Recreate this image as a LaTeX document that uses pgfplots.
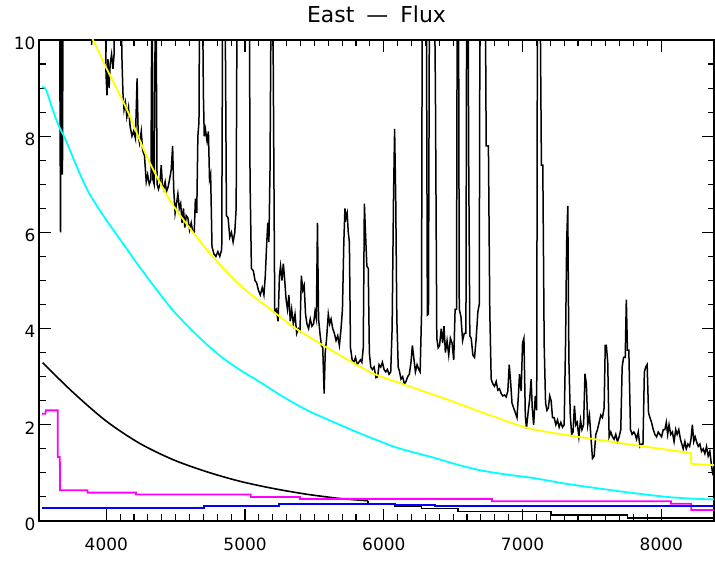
\documentclass[border=0pt]{standalone}
\usepackage{fontspec}
\setmainfont{DejaVu Sans}
\usepackage{pgfplots}
\pgfplotsset{compat=1.18}
\definecolor{idlyellow}{RGB}{255,255,0}
\definecolor{idlcyan}{RGB}{0,255,255}
\definecolor{idlmagenta}{RGB}{255,0,255}
\definecolor{idlblue}{RGB}{0,0,255}

% observed spectrum (values above 10 run off the top)
\pgfplotstableread{
w v
3662 12
3670 6.0
3676 12
3684 7.2
3690 12
3890 12
3895 9.9
3902 12
3990 12
3998 9.3
4005 8.85
4012 9.6
4020 9.0
4028 9.5
4038 9.7
4048 9.4
4056 9.7
4062 12
4105 12
4112 9.7
4120 8.9
4128 8.55
4138 8.7
4148 8.4
4160 8.6
4172 8.2
4185 8.0
4197 8.1
4210 7.95
4222 9.2
4230 8.0
4240 7.85
4252 8.1
4262 7.7
4275 7.6
4288 7.05
4298 7.2
4310 7.0
4322 7.1
4330 12
4336 7.1
4345 7.0
4356 12
4366 7.0
4376 6.9
4386 7.0
4396 7.4
4404 7.0
4414 6.9
4424 7.05
4434 6.85
4446 6.95
4456 7.1
4468 7.3
4478 7.8
4486 6.9
4496 6.4
4506 6.6
4516 6.8
4526 6.5
4536 6.6
4546 6.2
4556 6.5
4566 6.1
4576 6.35
4588 6.3
4600 6.05
4612 6.2
4624 6.0
4634 6.0
4642 6.7
4652 6.4
4660 8.0
4668 8.3
4674 12
4690 12
4700 8.85
4706 8.0
4714 8.15
4726 7.9
4736 8.1
4744 7.1
4752 7.2
4762 5.7
4776 5.55
4790 5.5
4804 5.6
4818 5.5
4832 5.65
4840 12
4854 12
4866 6.35
4878 6.3
4890 5.9
4902 6.0
4914 5.8
4926 6.0
4936 6.5
4944 12
5030 12
5036 7.1
5046 5.25
5060 5.2
5072 5.0
5084 4.95
5096 4.8
5110 4.7
5124 4.85
5136 4.7
5146 5.1
5155 5.7
5164 6.2
5172 5.8
5180 7.3
5190 12
5198 12
5204 9.15
5214 4.35
5226 4.4
5238 4.15
5248 5.1
5256 5.3
5266 5.0
5276 5.35
5286 5.0
5296 4.6
5306 4.4
5316 4.7
5326 4.15
5336 4.4
5348 4.1
5360 4.3
5372 3.9
5384 4.0
5396 3.95
5406 5.1
5416 4.8
5426 4.9
5436 4.3
5446 4.1
5458 4.0
5470 4.2
5482 4.05
5494 4.1
5504 4.35
5514 4.2
5522 6.2
5530 4.2
5540 3.9
5550 3.65
5560 3.6
5570 2.65
5578 3.5
5588 3.8
5600 4.3
5610 4.1
5620 4.2
5632 4.0
5644 3.9
5656 3.75
5668 3.85
5680 3.65
5692 4.0
5702 4.4
5712 5.8
5720 6.5
5728 6.3
5736 6.4
5744 6.0
5752 5.8
5760 3.6
5772 3.35
5784 3.3
5796 3.4
5808 3.25
5820 3.3
5832 3.35
5842 3.3
5852 3.6
5860 6.6
5868 6.0
5878 5.3
5888 5.25
5896 3.5
5906 3.2
5918 3.15
5930 3.2
5944 2.98
5956 3.0
5966 3.25
5978 3.2
5990 3.3
6002 3.15
6014 3.1
6026 3.15
6038 3.05
6050 3.1
6060 4.0
6070 6.7
6078 8.15
6086 6.7
6094 4.2
6104 3.2
6114 3.1
6124 2.95
6136 3.0
6148 2.85
6160 2.9
6172 3.0
6184 3.05
6196 3.3
6206 3.65
6216 3.4
6228 3.1
6240 3.25
6252 3.15
6262 3.1
6272 4.3
6278 12
6306 12
6314 4.28
6322 4.3
6330 12
6362 12
6372 9.0
6382 3.8
6392 3.6
6402 3.65
6414 4.0
6424 3.7
6434 4.05
6444 3.5
6456 3.75
6468 3.45
6480 3.8
6492 3.7
6504 3.35
6514 4.4
6524 4.4
6530 12
6538 12
6544 4.4
6556 4.25
6568 3.75
6580 3.9
6592 3.9
6598 12
6606 12
6612 7.5
6620 3.85
6630 3.8
6642 3.45
6654 3.4
6666 3.8
6678 4.35
6688 4.5
6694 12
6730 12
6738 7.8
6754 7.8
6764 4.35
6774 2.95
6786 2.85
6798 2.8
6810 2.9
6822 2.72
6834 2.75
6846 2.65
6858 2.6
6870 2.62
6882 2.58
6894 2.7
6904 3.25
6914 2.9
6924 2.45
6936 2.35
6948 2.25
6960 2.15
6970 2.6
6978 3.05
6990 2.7
7000 3.7
7010 3.8
7020 2.2
7028 1.92
7040 2.25
7052 2.55
7062 2.95
7070 2.35
7080 2.0
7092 2.6
7102 2.3
7108 12
7124 12
7136 7.4
7146 7.4
7156 3.65
7166 2.45
7176 2.3
7186 2.35
7196 2.6
7206 2.5
7216 2.15
7228 2.15
7240 2.0
7252 2.1
7264 1.95
7276 2.05
7288 1.95
7300 2.0
7310 3.7
7318 5.8
7326 6.55
7334 3.35
7344 2.2
7354 1.8
7364 1.85
7374 2.4
7384 2.0
7394 2.05
7406 1.75
7418 2.1
7428 1.9
7440 2.0
7450 3.06
7460 2.85
7470 2.0
7482 2.2
7494 1.7
7504 1.3
7516 1.35
7528 1.8
7540 1.9
7552 2.05
7564 2.2
7576 2.15
7588 2.35
7596 3.65
7604 3.65
7614 3.3
7624 1.75
7636 1.85
7648 1.75
7660 1.7
7672 1.8
7684 1.65
7696 1.75
7708 1.9
7718 3.2
7728 3.4
7740 3.4
7748 4.6
7756 3.55
7766 3.55
7778 1.9
7790 1.8
7802 1.85
7812 1.8
7822 1.7
7834 1.85
7846 1.55
7858 1.6
7868 1.6
7878 3.1
7888 3.2
7898 3.25
7908 2.25
7918 2.15
7930 2.05
7942 1.9
7954 1.8
7966 1.75
7978 1.85
7990 1.8
8002 1.75
8014 1.9
8026 1.9
8036 2.05
8046 1.8
8056 2.0
8068 1.8
8080 1.85
8092 1.65
8104 1.9
8114 1.8
8126 1.9
8138 1.7
8148 1.6
8158 1.5
8170 1.65
8180 1.5
8192 1.6
8204 1.55
8214 1.7
8224 2.0
8234 1.65
8244 1.75
8254 1.65
8266 1.55
8278 1.6
8290 1.45
8302 1.5
8314 1.4
8326 1.55
8338 1.35
8350 1.45
8360 1.2
8372 0.95
}\spectrum

\begin{document}
\begin{tikzpicture}[x=1bp,y=1bp]
\begin{axis}[
  at={(0,0)}, anchor=south west, scale only axis,
  width=675bp, height=481bp,
  xmin=3515, xmax=8380, ymin=0, ymax=10,
  xtick={4000,5000,6000,7000,8000}, minor x tick num=9,
  ytick={0,2,4,6,8,10}, minor y tick num=3,
  scaled x ticks=false,
  tick align=inside,
  major tick length=12bp, minor tick length=6.5bp,
  every tick/.style={black, line width=1.1bp},
  axis line style={line width=1.2bp},
  /pgf/number format/assume math mode=true,
  /pgf/number format/1000 sep={},
  ticklabel style={font=\fontsize{17}{17}\selectfont},
  xticklabel style={yshift=-13bp},
  yticklabel style={yshift=-3bp},
  title={East\hspace{12bp}—\hspace{12bp}Flux},
  title style={font=\fontsize{22}{22}\selectfont, at={(0.5,1)}, anchor=base, yshift=12bp},
]
\addplot[black, line width=1.5bp] table[x=w, y=v] {\spectrum};
% yellow
\addplot[idlyellow, line width=1.8bp, smooth] coordinates {
(3895,10.06)(4015,9.33)(4151,8.54)(4295,7.56)(4460,6.66)(4628,5.99)(4796,5.40)
(4988,4.84)(5228,4.30)(5324,4.08)(5563,3.65)(5899,3.10)(6103,2.88)(6462,2.52)
(6822,2.14)(7086,1.90)(7566,1.68)(7997,1.50)(8189,1.42)(8213,1.40)};
\addplot[idlyellow, line width=1.8bp] coordinates {
(8213,1.40)(8216,1.19)(8381,1.16)};
% cyan
\addplot[idlcyan, line width=1.8bp, smooth] coordinates {
(3535,9.02)(3560,9.0)(3580,8.85)(3620,8.5)(3660,8.2)(3703,7.95)(3790,7.35)
(3871,6.84)(3990,6.3)(4125,5.75)(4240,5.28)(4365,4.8)(4480,4.38)(4604,4.0)
(4724,3.67)(4844,3.38)(4964,3.14)(5084,2.93)(5276,2.58)(5450,2.3)(5635,2.06)
(5863,1.78)(6100,1.52)(6343,1.33)(6520,1.18)(6702,1.05)(6900,0.96)(7086,0.89)
(7300,0.78)(7566,0.67)(7800,0.58)(8045,0.50)(8250,0.46)(8381,0.45)};
% black model
\addplot[black, line width=1.6bp, smooth] coordinates {
(3542,3.29)(3758,2.68)(3998,2.08)(4237,1.62)(4477,1.28)(4717,1.03)(4957,0.83)
(5196,0.68)(5436,0.56)(5676,0.47)(5796,0.44)(5887,0.42)};
\addplot[black, line width=1.6bp] coordinates {
(5887,0.42)(5887,0.35)(6079,0.35)
(6079,0.30)(6271,0.30)(6271,0.26)(6534,0.26)(6534,0.20)(7206,0.20)(7206,0.12)
(7757,0.12)(7757,0.06)(8381,0.06)};
% magenta
\addplot[idlmagenta, line width=1.8bp] coordinates {
(3535,2.23)(3560,2.23)(3565,2.30)(3650,2.30)(3650,1.33)(3665,1.33)(3667,0.64)
(3865,0.64)(3865,0.59)(4214,0.59)(4214,0.55)(5041,0.55)(5041,0.50)(5395,0.50)
(5395,0.46)(6780,0.46)(6780,0.41)(8070,0.41)(8070,0.36)(8216,0.36)(8216,0.23)
(8381,0.23)};
% blue
\addplot[idlblue, line width=1.8bp] coordinates {
(3535,0.27)(4705,0.27)(4705,0.31)(5245,0.31)(5245,0.36)(6079,0.36)(6079,0.33)
(6367,0.33)(6367,0.31)(8381,0.31)};
\end{axis}
\pgfresetboundingbox
\path (-39,-40) rectangle (676,521);
\end{tikzpicture}
\end{document}
